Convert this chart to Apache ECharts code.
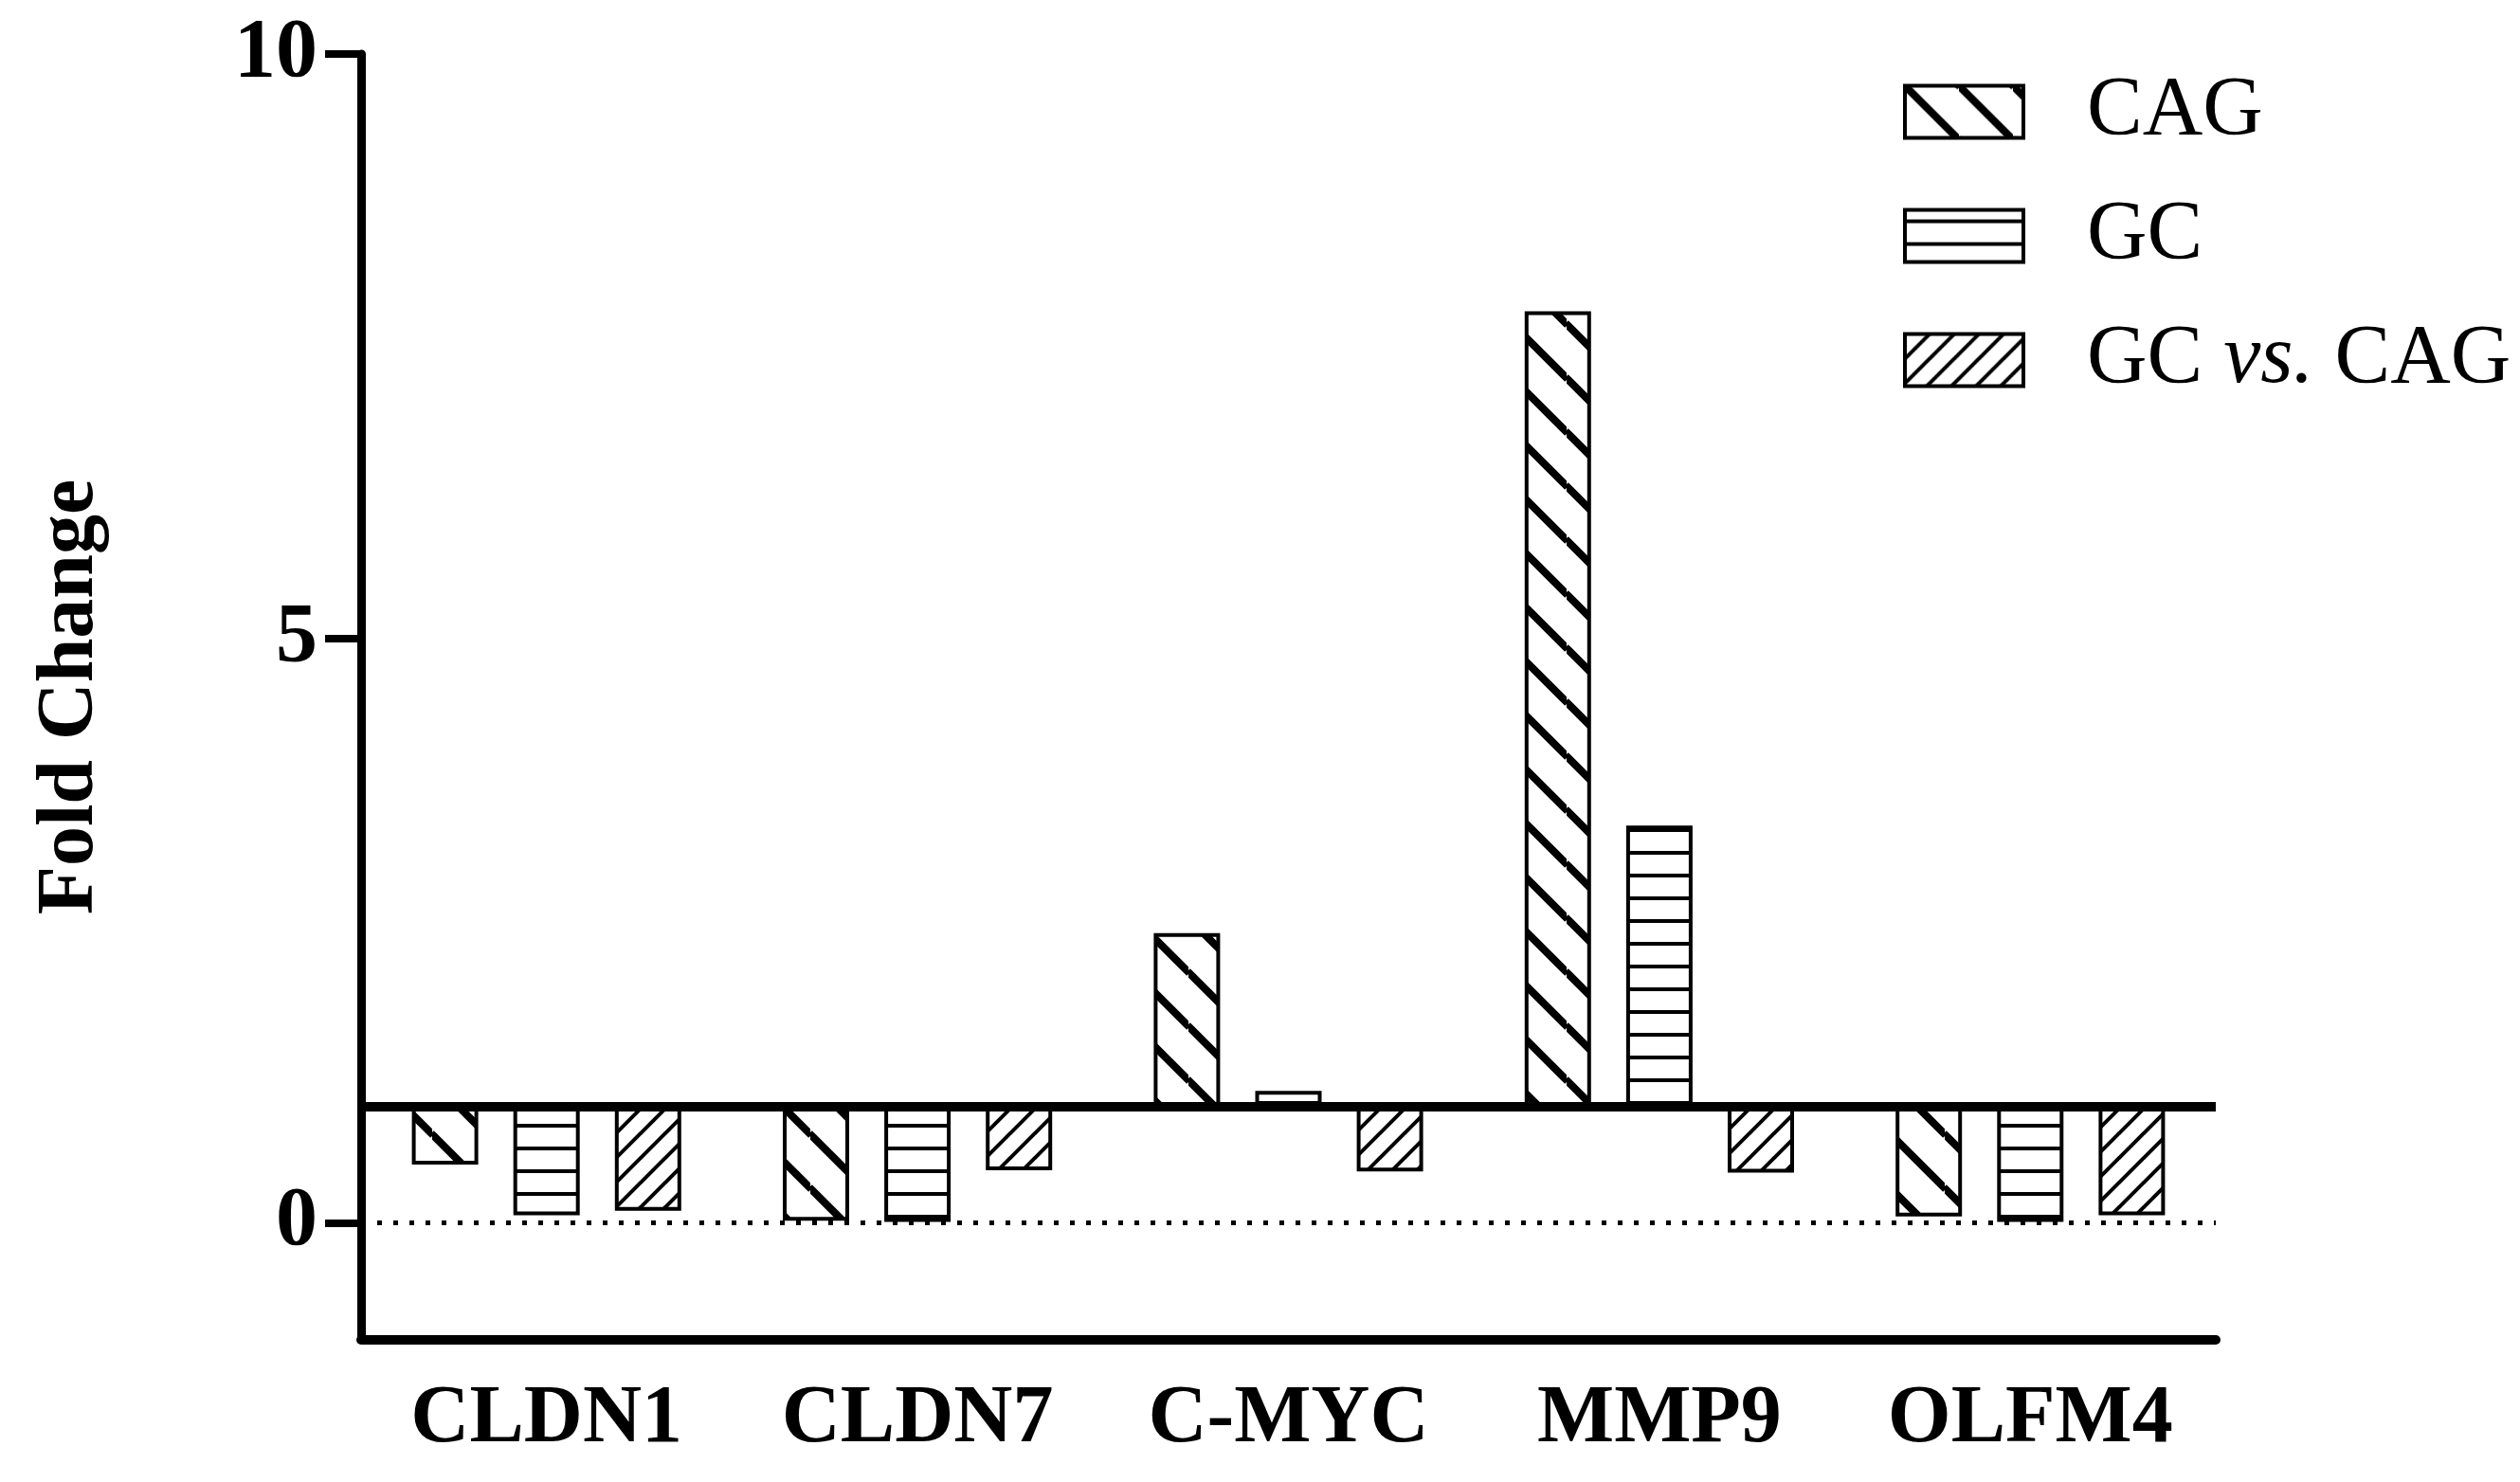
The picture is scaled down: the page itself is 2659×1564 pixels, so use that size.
<!DOCTYPE html>
<html>
<head>
<meta charset="utf-8">
<script src="https://cdn.jsdelivr.net/npm/echarts@6/dist/echarts.min.js"></script>
<style>
  html, body { margin: 0; padding: 0; background: #fff; }
  #chart { width: 2659px; height: 1564px; }
</style>
</head>
<body>
<div id="chart"></div>
<script>
// values (fold change, baseline 1)
var genes = ['CLDN1', 'CLDN7', 'C-MYC', 'MMP9', 'OLFM4'];
var cag = [0.50, 0.02, 2.48, 7.80, 0.055];
var gc = [0.065, 0.01, 1.13, 3.40, 0.01];
var gcVsCag = [0.105, 0.45, 0.44, 0.43, 0.065];
var yTicks = [0, 5, 10];

var FONT = 'Liberation Serif';
var BASE = 1;

// hatch fills like the prism figure
function hatch(kind) {
  var c = document.createElement('canvas');
  var ctx;
  if (kind === 'h') {
    c.width = 12; c.height = 24;
    ctx = c.getContext('2d');
    ctx.fillStyle = '#fff';
    ctx.fillRect(0, 0, c.width, c.height);
    ctx.fillStyle = '#000';
    ctx.fillRect(0, 10, 12, 4);
    return { image: c, repeat: 'repeat' };
  }
  var p = kind === 'back' ? 57 : 26;
  c.width = p; c.height = p;
  ctx = c.getContext('2d');
  ctx.fillStyle = '#fff';
  ctx.fillRect(0, 0, p, p);
  ctx.strokeStyle = '#000';
  ctx.lineWidth = kind === 'back' ? 8 : 4;
  ctx.beginPath();
  for (var k = -1; k <= 2; k++) {
    if (kind === 'back') {
      ctx.moveTo(-1, k * p - 1); ctx.lineTo(p + 1, k * p + p + 1);
    } else {
      ctx.moveTo(-1, k * p + 1); ctx.lineTo(p + 1, k * p - p - 1);
    }
  }
  ctx.stroke();
  return { image: c, repeat: 'repeat' };
}

var groups = [
  { name: 'CAG', values: cag, fill: hatch('back') },
  { name: 'GC', values: gc, fill: hatch('h') },
  { name: 'GC vs. CAG', values: gcVsCag, fill: hatch('fwd') }
];

var series = [];
groups.forEach(function (g, i) {
  // invisible part up to the lower end of each bar
  series.push({
    name: g.name + ' base',
    type: 'bar',
    stack: 's' + i,
    barWidth: 70,
    barGap: '53%',
    silent: true,
    itemStyle: { color: 'transparent', borderWidth: 0 },
    emphasis: { disabled: true },
    data: g.values.map(function (v) { return Math.min(v, BASE); })
  });
  series.push({
    name: g.name,
    type: 'bar',
    stack: 's' + i,
    barWidth: 70,
    barGap: '53%',
    itemStyle: { color: g.fill, borderColor: '#000', borderWidth: 4 },
    emphasis: { disabled: true },
    data: g.values.map(function (v) { return Math.abs(v - BASE); })
  });
});

// reference lines: dotted zero and the thick baseline at 1
series[series.length - 1].markLine = {
  silent: true,
  symbol: 'none',
  label: { show: false },
  data: [
    { yAxis: 0, lineStyle: { color: '#000', type: [5, 12], width: 5 } },
    { yAxis: BASE, lineStyle: { color: '#000', type: 'solid', width: 10 } }
  ]
};

var myChart = echarts.init(document.getElementById('chart'));
var option = {
  animation: false,
  backgroundColor: '#fff',
  grid: { left: 381, right: 321, top: 57, bottom: 150 },
  legend: {
    data: ['CAG', 'GC', 'GC vs. CAG'],
    orient: 'vertical',
    left: 2003,
    top: 69,
    icon: 'rect',
    itemWidth: 125,
    itemHeight: 55,
    itemGap: 43,
    selectedMode: false,
    itemStyle: { borderColor: '#000', borderWidth: 4 },
    formatter: function (name) {
      if (name === 'GC vs. CAG') return '{p|}{t|GC }{i|vs.}{t| CAG}';
      return '{p|}{t|' + name + '}';
    },
    textStyle: {
      rich: {
        p: { width: 62 },
        t: { fontFamily: FONT, fontSize: 88, color: '#000', lineHeight: 88 },
        i: { fontFamily: FONT, fontSize: 88, color: '#000', fontStyle: 'italic', lineHeight: 88 }
      }
    }
  },
  xAxis: {
    type: 'category',
    data: genes,
    axisLine: { onZero: false, lineStyle: { color: '#000', width: 10 } },
    axisTick: { alignWithLabel: true, length: 38, lineStyle: { color: '#000', width: 4 } },
    axisLabel: { color: '#000', fontFamily: FONT, fontWeight: 'bold', fontSize: 86, margin: 42 },
    splitLine: { show: false }
  },
  yAxis: {
    type: 'value',
    min: -1,
    max: 10,
    name: 'Fold Change',
    nameLocation: 'middle',
    nameGap: 264,
    nameRotate: 90,
    nameTextStyle: { color: '#000', fontFamily: FONT, fontWeight: 'bold', fontSize: 84 },
    axisLine: { show: true, lineStyle: { color: '#000', width: 9 } },
    axisTick: { show: true, customValues: yTicks, length: 38, lineStyle: { color: '#000', width: 8 } },
    axisLabel: { customValues: yTicks, color: '#000', fontFamily: FONT, fontWeight: 'bold', fontSize: 88, margin: 46 },
    splitLine: { show: false }
  },
  series: series
};
myChart.setOption(option);
</script>
</body>
</html>
